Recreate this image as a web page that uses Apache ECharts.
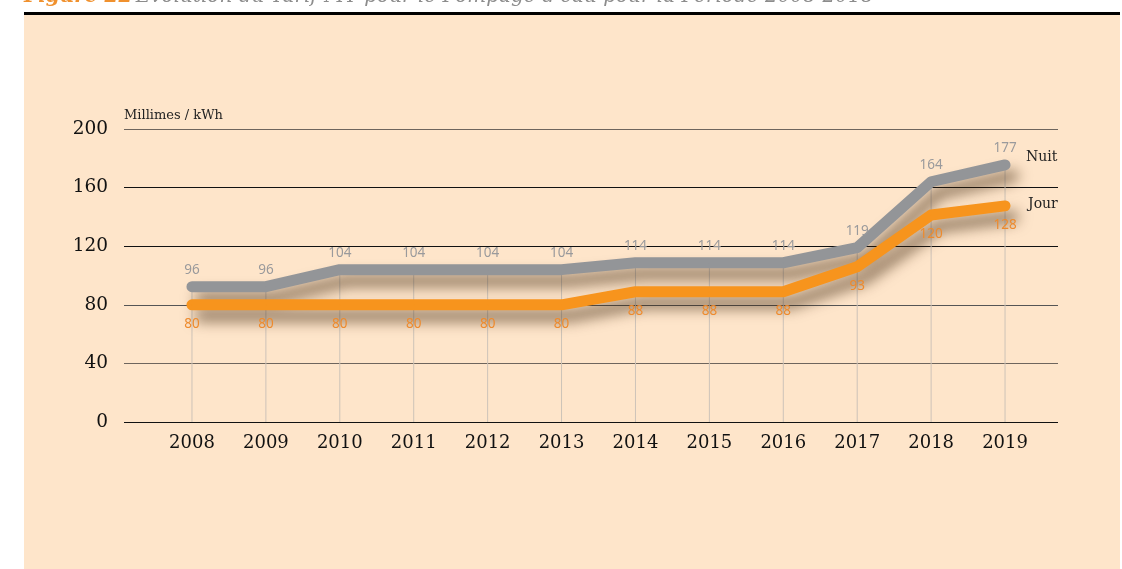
<!DOCTYPE html>
<html>
<head>
<meta charset="utf-8">
<script src="https://cdn.jsdelivr.net/npm/echarts@6/dist/echarts.min.js"></script>
<style>html,body{margin:0;padding:0;background:#fff;}#c{width:1122px;height:569px;}</style>
</head>
<body>
<div id="c"></div>
<script>
// Categories
const years = ['2008','2009','2010','2011','2012','2013','2014','2015','2016','2017','2018','2019'];
// Line positions as drawn in the picture (Millimes / kWh)
const nuitLine = [92.4, 92.4, 104, 104, 104, 104, 108.7, 108.7, 108.7, 119, 164, 175.5];
const jourLine = [80, 80, 80, 80, 80, 80, 88.9, 88.9, 88.9, 106, 141.3, 147.5];
// Printed value labels
const nuitLabels = [96, 96, 104, 104, 104, 104, 114, 114, 114, 119, 164, 177];
const jourLabels = [80, 80, 80, 80, 80, 80, 88, 88, 88, 93, 120, 128];
// Y-axis ticks
const yTicks = [0, 40, 80, 120, 160, 200];
const seriesNames = ['Nuit', 'Jour'];
const yUnit = 'Millimes / kWh';
const titleFig = 'Figure 22';
const titleText = "Evolution du Tarif MT pour le Pompage d'eau pour la Période 2008-2018";

const serif = '"DejaVu Serif", serif';
const chart = echarts.init(document.getElementById('c'), null, {renderer: 'canvas'});

const shadow = {shadowColor: 'rgba(60,35,10,0.6)', shadowBlur: 14, shadowOffsetX: 8, shadowOffsetY: 11};

chart.setOption({
  backgroundColor: '#ffffff',
  animation: false,
  graphic: [
    {type: 'rect', z: -10, shape: {x: 24, y: 15, width: 1096, height: 554}, style: {fill: '#fee5ca'}},
    {type: 'rect', z: -9, shape: {x: 24, y: 12, width: 1096, height: 3}, style: {fill: '#000'}},
    {type: 'text', z: -8, left: 24, top: -13,
      style: {
        text: '{a|' + titleFig + '} {b|' + titleText + '}',
        rich: {
          a: {fontFamily: serif, fontStyle: 'italic', fontSize: 20, fill: '#f0912e', fontWeight: 'bold'},
          b: {fontFamily: serif, fontStyle: 'italic', fontSize: 20, fill: '#8c8c8c'}
        }
      }}
  ],
  grid: [
    {left: 124, right: 64, top: 129, bottom: 147},
    {left: 155, right: 80, top: 129, bottom: 147}
  ],
  xAxis: [
    {gridIndex: 0, type: 'value', min: 0, max: 1, show: false},
    {gridIndex: 1, type: 'category', data: years, boundaryGap: true,
      axisLine: {show: false}, axisTick: {show: false}, splitLine: {show: false},
      axisLabel: {margin: 12, fontFamily: serif, fontSize: 18, color: '#111'}}
  ],
  yAxis: [
    {gridIndex: 0, type: 'value', min: yTicks[0], max: yTicks[yTicks.length - 1], interval: 40,
      name: yUnit, nameLocation: 'end', nameGap: 7,
      nameTextStyle: {align: 'left', verticalAlign: 'bottom', fontFamily: serif, fontSize: 13, color: '#222'},
      axisLine: {show: false}, axisTick: {show: false},
      axisLabel: {margin: 16, fontFamily: serif, fontSize: 18.5, color: '#111'},
      splitLine: {lineStyle: {width: 1.2, color: ['#111', '#6e655d', '#555', '#111', '#111', '#6e655d']}}},
    {gridIndex: 1, type: 'value', min: yTicks[0], max: yTicks[yTicks.length - 1], interval: 40, show: false}
  ],
  series: [
    {type: 'bar', xAxisIndex: 1, yAxisIndex: 1, data: nuitLine, barWidth: 1, z: 1,
      itemStyle: {color: '#cdc3b8'}, silent: true},
    {name: seriesNames[0], type: 'line', xAxisIndex: 1, yAxisIndex: 1, data: nuitLine, z: 3,
      symbol: 'circle', symbolSize: 1, showSymbol: true, itemStyle: {color: '#939598'},
      lineStyle: Object.assign({color: '#939598', width: 11, cap: 'round', join: 'round'}, shadow),
      label: {show: true, position: 'top', distance: 9, fontFamily: '"Noto Sans", sans-serif', fontSize: 13.5, color: '#9a9a9c',
        formatter: p => nuitLabels[p.dataIndex]},
      endLabel: {show: true, formatter: seriesNames[0], distance: 21, offset: [0, -8], fontFamily: serif, fontSize: 14, color: '#222'}},
    {name: seriesNames[1], type: 'line', xAxisIndex: 1, yAxisIndex: 1, data: jourLine, z: 4,
      symbol: 'circle', symbolSize: 1, showSymbol: true, itemStyle: {color: '#f7941d'},
      lineStyle: Object.assign({color: '#f7941d', width: 11, cap: 'round', join: 'round'}, shadow),
      label: {show: true, position: 'bottom', distance: 12, fontFamily: '"Noto Sans", sans-serif', fontSize: 13.5, color: '#ee8a2c',
        formatter: p => jourLabels[p.dataIndex]},
      endLabel: {show: true, formatter: seriesNames[1], distance: 23, offset: [0, -2], fontFamily: serif, fontSize: 14, color: '#222'}}
  ]
});
</script>
</body>
</html>
